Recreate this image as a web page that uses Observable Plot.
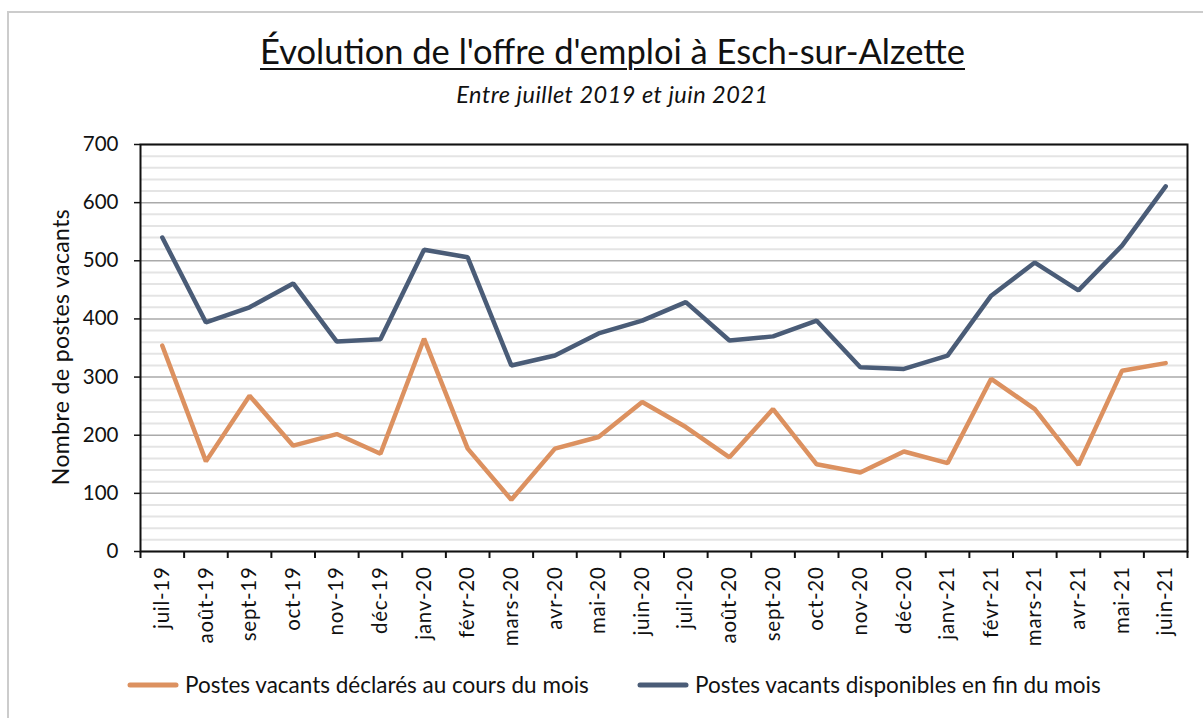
<!DOCTYPE html>
<html>
<head>
<meta charset="utf-8">
<script src="https://cdn.jsdelivr.net/npm/d3@7"></script>
<script src="https://cdn.jsdelivr.net/npm/@observablehq/plot@0.6"></script>
<style>
  html, body { margin: 0; padding: 0; background: #fff; }
  #page { position: relative; width: 1203px; height: 718px; overflow: hidden; font-family: Lato, "Noto Sans", sans-serif; color: #111; }
  #border { position: absolute; left: 7px; top: 11px; right: -10px; bottom: -10px; border-left: 2px solid #cccccc; border-top: 2px solid #cccccc; }
  #title { position: absolute; left: 0; width: 1225px; top: 30px; text-align: center; font-size: 34.5px; text-decoration: underline; text-underline-offset: 4px; text-decoration-thickness: 2px; }
  #subtitle { position: absolute; left: 0; width: 1225px; top: 80px; text-align: center; font-size: 23.5px; font-style: italic; letter-spacing: 0.5px; }
  #ylabel { position: absolute; left: 60px; top: 347px; transform: translate(-50%, -50%) rotate(-90deg); white-space: nowrap; font-size: 23px; letter-spacing: 0.4px; }
  #chart { position: absolute; left: 0; top: 120px; }
  #chart svg g[aria-label="x-axis tick label"] text { letter-spacing: 0.7px; }
  .leg { position: absolute; top: 671px; font-size: 22.5px; display: flex; align-items: center; white-space: nowrap; }
  .leg svg { margin-right: 6px; }
</style>
</head>
<body>
<div id="page">
  <div id="border"></div>
  <div id="title"></div>
  <div id="subtitle"></div>
  <div id="ylabel"></div>
  <div id="chart"></div>
  <div class="leg" id="leg0" style="left:127px"></div>
  <div class="leg" id="leg1" style="left:637px"></div>
</div>
<script>
const titleText = "Évolution de l'offre d'emploi à Esch-sur-Alzette";
const subtitleText = "Entre juillet 2019 et juin 2021";
const yLabel = "Nombre de postes vacants";

const months = ["juil-19","août-19","sept-19","oct-19","nov-19","déc-19","janv-20","févr-20","mars-20","avr-20","mai-20","juin-20","juil-20","août-20","sept-20","oct-20","nov-20","déc-20","janv-21","févr-21","mars-21","avr-21","mai-21","juin-21"];

const seriesNames = ["Postes vacants déclarés au cours du mois", "Postes vacants disponibles en fin du mois"];
const seriesColors = ["#DC9160", "#4A5C77"];

const declared = [354, 155, 268, 182, 202, 168, 366, 177, 89, 177, 197, 257, 214, 162, 245, 150, 136, 172, 152, 297, 245, 149, 311, 324];
const available = [540, 394, 420, 461, 361, 365, 519, 506, 320, 337, 375, 397, 429, 363, 370, 397, 317, 314, 337, 440, 497, 449, 526, 628];

const yTicks = [0, 100, 200, 300, 400, 500, 600, 700];

document.getElementById("title").textContent = titleText;
document.getElementById("subtitle").textContent = subtitleText;
document.getElementById("ylabel").textContent = yLabel;

const data = [];
months.forEach((m, i) => {
  data.push({i, month: m, value: declared[i], series: seriesNames[0]});
  data.push({i, month: m, value: available[i], series: seriesNames[1]});
});

const minorTicks = d3.range(20, 700, 20).filter(v => v % 100 !== 0);
const boundaries = d3.range(months.length + 1).map(i => i - 0.5);

const chart = Plot.plot({
  width: 1203,
  height: 560,
  marginTop: 24,
  marginBottom: 129,
  marginLeft: 140,
  marginRight: 16,
  style: { fontFamily: "Lato, 'Noto Sans', sans-serif", color: "#111", background: "transparent" },
  x: { domain: [-0.5, months.length - 0.5] },
  y: { domain: [0, 700] },
  color: { domain: seriesNames, range: seriesColors },
  marks: [
    Plot.ruleY(minorTicks, { stroke: "#e4e4e4", strokeWidth: 2 }),
    Plot.ruleY(yTicks, { stroke: "#aaaaaa", strokeWidth: 1.5 }),
    Plot.axisY({ ticks: yTicks, tickSize: 6, tickPadding: 16, fontSize: 20.5, label: null, strokeWidth: 1.5, stroke: "#111" }),
    Plot.axisX({ ticks: d3.range(months.length), tickFormat: i => months[i], tickRotate: -90, tickSize: 0, tickPadding: 15, fontSize: 20.5, label: null }),
    Plot.ruleX(boundaries, { y1: 0, y2: -12, stroke: "#111", strokeWidth: 2 }),
    Plot.line(data, { x: "i", y: "value", z: "series", stroke: "series", strokeWidth: 4.5, strokeLinejoin: "miter", strokeLinecap: "round" }),
    Plot.frame({ stroke: "#111", strokeWidth: 2 })
  ]
});
document.getElementById("chart").appendChild(chart);

seriesNames.forEach((name, k) => {
  const el = document.getElementById("leg" + k);
  el.innerHTML = `<svg width="52" height="10"><line x1="3" y1="5" x2="49" y2="5" stroke="${seriesColors[k]}" stroke-width="5" stroke-linecap="round"/></svg><span></span>`;
  el.querySelector("span").textContent = name;
});
</script>
</body>
</html>
